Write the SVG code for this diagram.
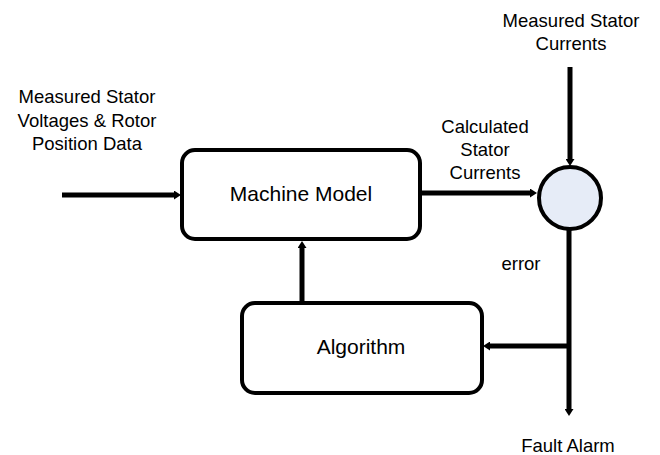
<svg xmlns="http://www.w3.org/2000/svg" width="660" height="455" viewBox="0 0 660 455">
<style>
text{font-family:"Liberation Sans",Arial,sans-serif;fill:#000}
.lbl{font-size:18.5px;text-anchor:middle}
.node{font-size:21px;text-anchor:middle}
.box{fill:#fff;stroke:#000;stroke-width:4}
.con{stroke:#000;stroke-width:5;fill:none}
</style>
<defs>
<marker id="ah" markerWidth="1.4" markerHeight="1.8" refX="0.4" refY="0.9" orient="auto" markerUnits="strokeWidth">
<path d="M0,0 L1.4,0.9 L0,1.8 Z" fill="#000"/>
</marker>
</defs>
<rect width="660" height="455" fill="#fff"/>
<g id="connectors">
<path class="con" d="M62,195 H176" marker-end="url(#ah)"/>
<path class="con" d="M422,193 H532" marker-end="url(#ah)"/>
<path class="con" d="M570,67 V161" marker-end="url(#ah)"/>
<path class="con" d="M569,229 V411" marker-end="url(#ah)"/>
<path class="con" d="M569,346 H488" marker-end="url(#ah)"/>
<path class="con" d="M302,303 V246" marker-end="url(#ah)"/>
</g>
<g id="machine-model">
<rect class="box" x="182" y="150" width="238" height="89" rx="13"/>
<text class="node" x="301" y="201">Machine Model</text>
</g>
<g id="algorithm">
<rect class="box" x="242" y="303" width="240" height="90" rx="13"/>
<text class="node" x="361" y="354">Algorithm</text>
</g>
<g id="summing-junction">
<circle cx="570" cy="198" r="31" fill="#e6ecf7" stroke="#000" stroke-width="4"/>
</g>
<g id="labels">
<text class="lbl" x="87" y="103">Measured Stator</text>
<text class="lbl" x="87" y="127">Voltages &amp; Rotor</text>
<text class="lbl" x="87" y="150">Position Data</text>
<text class="lbl" x="571" y="27">Measured Stator</text>
<text class="lbl" x="571" y="50">Currents</text>
<text class="lbl" x="485" y="133">Calculated</text>
<text class="lbl" x="485" y="156">Stator</text>
<text class="lbl" x="485" y="179">Currents</text>
<text class="lbl" x="521" y="270">error</text>
<text class="lbl" x="568" y="452">Fault Alarm</text>
</g>
</svg>
